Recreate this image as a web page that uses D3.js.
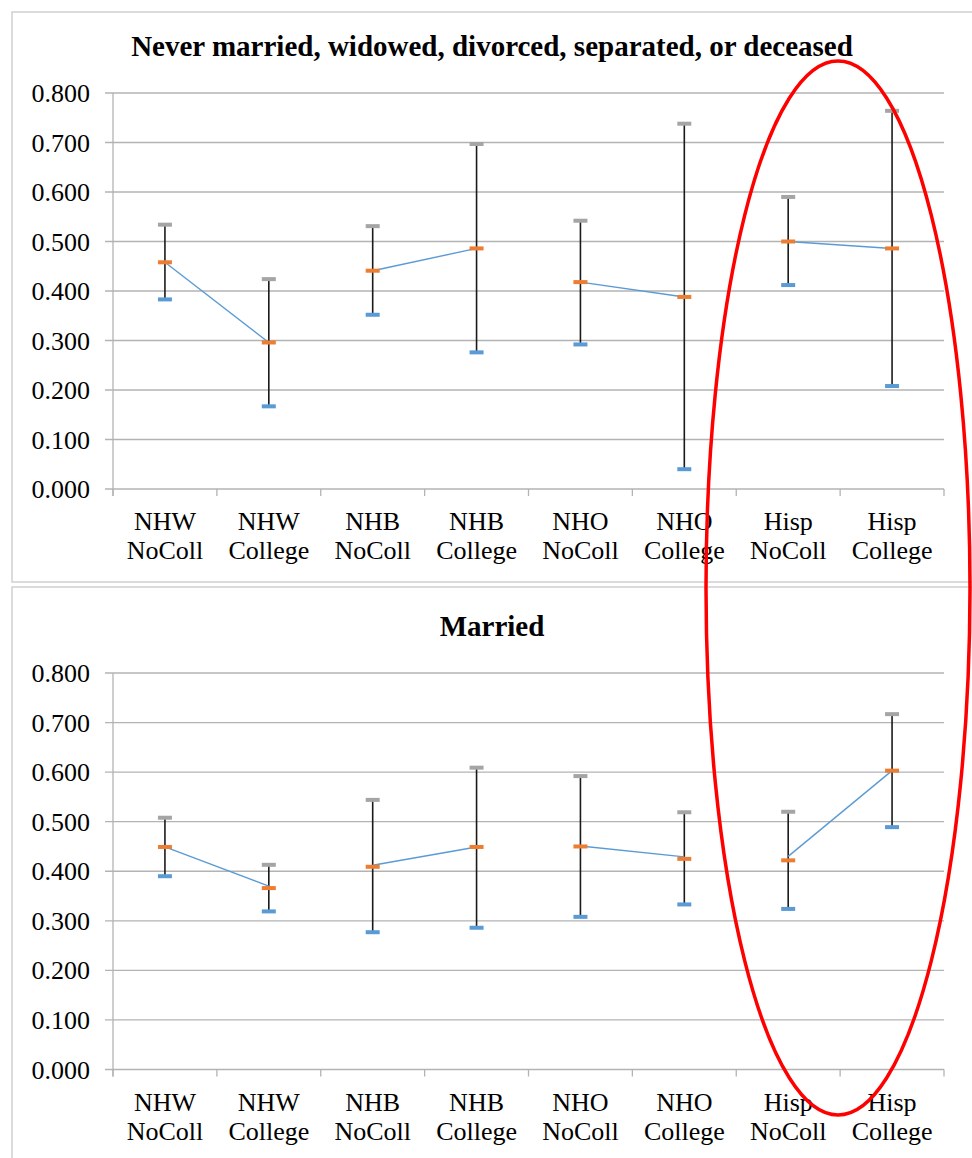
<!DOCTYPE html>
<html>
<head>
<meta charset="utf-8">
<script src="https://cdn.jsdelivr.net/npm/d3@7/dist/d3.min.js"></script>
<style>
  html, body { margin: 0; padding: 0; background: #fff; }
  svg { display: block; }
  svg text { font-family: "Liberation Serif", "Times New Roman", serif; }
</style>
</head>
<body>
<svg id="chart" width="972" height="1158"></svg>
<script>
// values
const categories = ["NHW NoColl", "NHW College", "NHB NoColl", "NHB College",
                    "NHO NoColl", "NHO College", "Hisp NoColl", "Hisp College"];
const yTicks = [0, 0.1, 0.2, 0.3, 0.4, 0.5, 0.6, 0.7, 0.8];

const topTitle = "Never married, widowed, divorced, separated, or deceased";
const topUpper = [0.534, 0.424, 0.531, 0.697, 0.542, 0.738, 0.590, 0.764];
const topMean  = [0.458, 0.296, 0.441, 0.486, 0.418, 0.388, 0.500, 0.486];
const topLower = [0.383, 0.167, 0.352, 0.276, 0.292, 0.040, 0.412, 0.208];
const topLine  = [0.458, 0.296, 0.441, 0.486, 0.418, 0.388, 0.500, 0.486];

const bottomTitle = "Married";
const bottomUpper = [0.508, 0.413, 0.544, 0.609, 0.592, 0.519, 0.520, 0.717];
const bottomMean  = [0.449, 0.366, 0.409, 0.449, 0.450, 0.425, 0.422, 0.603];
const bottomLower = [0.390, 0.319, 0.277, 0.286, 0.308, 0.333, 0.324, 0.489];
const bottomLine  = [0.449, 0.370, 0.412, 0.449, 0.451, 0.429, 0.430, 0.603];

const svg = d3.select("#chart");

const x = d3.scaleBand().domain(categories).range([113, 944]);

function drawPanel(box, title, yTop, yBottom, upper, mean, lower, lineVals) {
    svg.append("rect")
        .attr("x", box.x).attr("y", box.y)
        .attr("width", box.w).attr("height", box.h)
        .attr("fill", "#fff")
        .attr("stroke", "#d0d0d0")
        .attr("stroke-width", 1.5);

    const y = d3.scaleLinear().domain([0, 0.8]).range([yBottom, yTop]);
    const g = svg.append("g");

    svg.append("text")
        .attr("x", 492).attr("y", box.titleY)
        .attr("text-anchor", "middle")
        .attr("font-weight", "bold")
        .attr("font-size", 29)
        .text(title);

    // gridlines with the short outer tick on the left
    g.selectAll(".grid").data(yTicks).enter().append("line")
        .attr("x1", x.range()[0] - 8).attr("x2", x.range()[1])
        .attr("y1", d => y(d)).attr("y2", d => y(d))
        .attr("stroke", "#b3b3b3").attr("stroke-width", 1.3);

    g.selectAll(".ylab").data(yTicks).enter().append("text")
        .attr("x", 90).attr("y", d => y(d))
        .attr("dy", "0.35em")
        .attr("text-anchor", "end")
        .attr("font-size", 26)
        .text(d => d3.format(".3f")(d));

    // y axis line
    g.append("line")
        .attr("x1", x.range()[0]).attr("x2", x.range()[0])
        .attr("y1", y(0.8)).attr("y2", y(0) + 7)
        .attr("stroke", "#b3b3b3").attr("stroke-width", 1.3);

    // x category ticks
    const bounds = categories.map(c => x(c)).concat([x.range()[1]]);
    g.selectAll(".xtick").data(bounds).enter().append("line")
        .attr("x1", d => d).attr("x2", d => d)
        .attr("y1", y(0)).attr("y2", y(0) + 7)
        .attr("stroke", "#b3b3b3").attr("stroke-width", 1.3);

    const cx = c => x(c) + x.bandwidth() / 2;

    const lab = g.selectAll(".xlab").data(categories).enter().append("text")
        .attr("text-anchor", "middle")
        .attr("font-size", 26);
    lab.append("tspan").attr("x", cx).attr("y", y(0) + 41).text(d => d.split(" ")[0]);
    lab.append("tspan").attr("x", cx).attr("y", y(0) + 70).text(d => d.split(" ")[1]);

    // error bars
    g.selectAll(".err").data(categories).enter().append("line")
        .attr("x1", cx).attr("x2", cx)
        .attr("y1", (d, i) => y(upper[i])).attr("y2", (d, i) => y(lower[i]))
        .attr("stroke", "#1a1a1a").attr("stroke-width", 1.6);

    // blue connecting lines, one per group pair
    const pairs = d3.range(0, categories.length, 2).map(i => [i, i + 1]);
    const line = d3.line().x(i => cx(categories[i])).y(i => y(lineVals[i]));
    g.selectAll(".pair").data(pairs).enter().append("path")
        .attr("d", line)
        .attr("fill", "none")
        .attr("stroke", "#5b9bd5").attr("stroke-width", 1.4);

    const caps = [[upper, "#a5a5a5"], [lower, "#5b9bd5"], [mean, "#ed7d31"]];
    caps.forEach(([vals, col]) => {
        g.selectAll(null).data(categories).enter().append("rect")
            .attr("x", d => cx(d) - 7)
            .attr("y", (d, i) => y(vals[i]) - 2)
            .attr("width", 14).attr("height", 4)
            .attr("fill", col);
    });
}

drawPanel({ x: 12, y: 12, w: 970, h: 570, titleY: 56 }, topTitle, 93, 489,
          topUpper, topMean, topLower, topLine);
drawPanel({ x: 12, y: 587, w: 970, h: 600, titleY: 636 }, bottomTitle, 673, 1069.5,
          bottomUpper, bottomMean, bottomLower, bottomLine);

// red hand-drawn highlight round the Hispanic groups
svg.append("ellipse")
    .attr("cx", 838).attr("cy", 588)
    .attr("rx", 132).attr("ry", 527)
    .attr("fill", "none")
    .attr("stroke", "#ff0000")
    .attr("stroke-width", 3.5);
</script>
</body>
</html>
